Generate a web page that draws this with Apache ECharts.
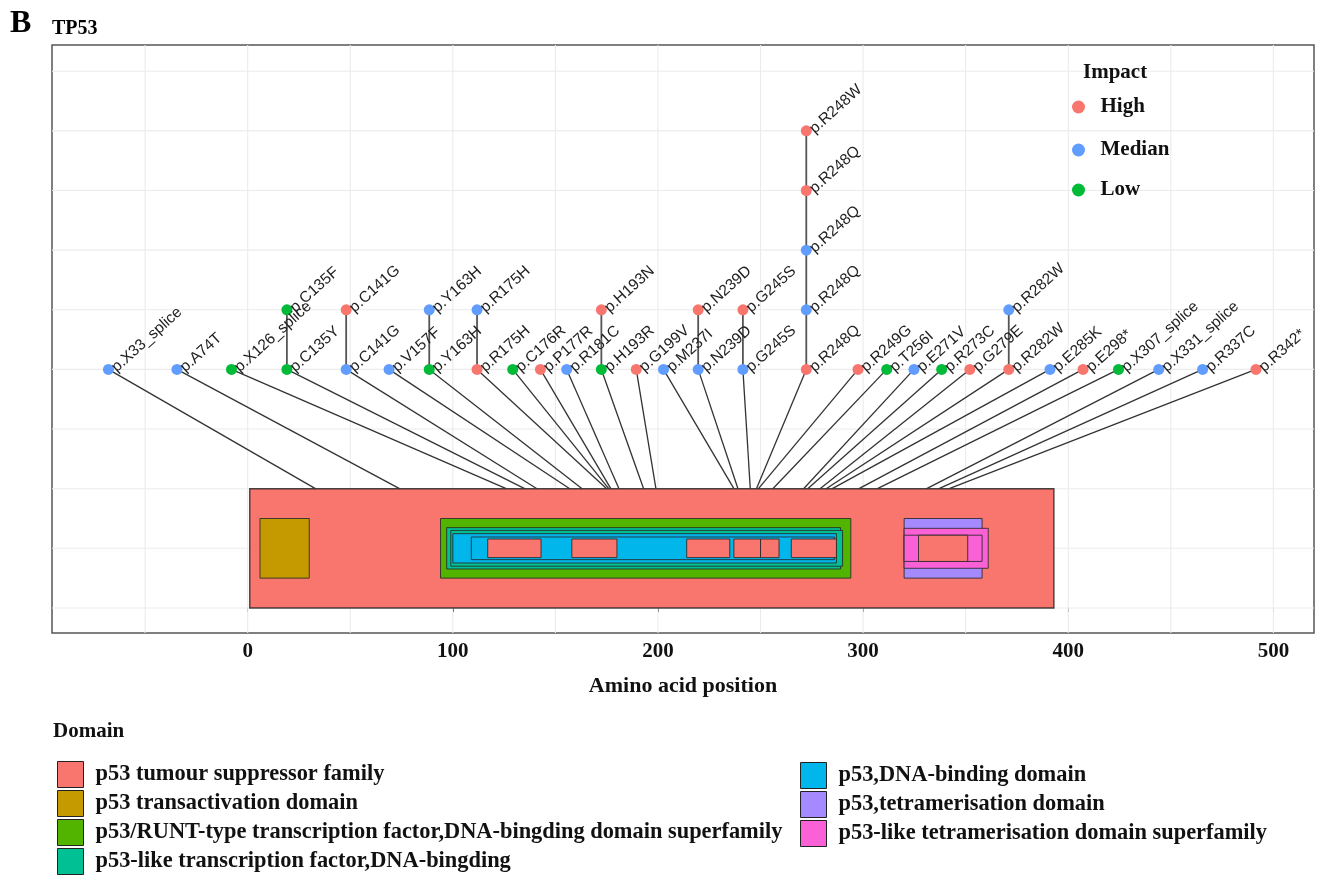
<!DOCTYPE html>
<html><head><meta charset="utf-8">
<script src="https://cdn.jsdelivr.net/npm/echarts@6/dist/echarts.min.js"></script>
<style>html,body{margin:0;padding:0;background:#fff}#chart{width:1324px;height:892px}</style>
</head><body><div id="chart"></div>
<script>
// ---------- axis / grid values ----------
const xTickValues = [0, 100, 200, 300, 400, 500];
const xGridValues = [-50, 0, 50, 100, 150, 200, 250, 300, 350, 400, 450, 500];
const yGridValues = [0, 1, 2, 3, 4, 5, 6, 7, 8, 9];

// ---------- impact categories ----------
const impactNames = ['High', 'Median', 'Low'];
const impactColors = ['#F8766D', '#619CFF', '#00BA38'];

// ---------- mutations ----------
const mutLabels = ['p.X33_splice','p.A74T','p.X126_splice','p.C135Y','p.C135F','p.C141G','p.C141G','p.V157F','p.Y163H','p.Y163H',
  'p.R175H','p.R175H','p.C176R','p.P177R','p.R181C','p.H193R','p.H193N','p.G199V','p.M237I','p.N239D','p.N239D',
  'p.G245S','p.G245S','p.R248Q','p.R248Q','p.R248Q','p.R248Q','p.R248W','p.R249G','p.T256I','p.E271V','p.R273C',
  'p.G279E','p.R282W','p.R282W','p.E285K','p.E298*','p.X307_splice','p.X331_splice','p.R337C','p.R342*'];
const mutPos = [33,74,126,135,135,141,141,157,163,163,175,175,176,177,181,193,193,199,237,239,239,245,245,
  248,248,248,248,248,249,256,271,273,279,282,282,285,298,307,331,337,342];
const mutImpact = ['Median','Median','Low','Low','Low','Median','High','Median','Low','Median',
  'High','Median','Low','High','Median','Low','High','High','Median','Median','High',
  'Median','High','High','Median','Median','High','High','High','Low','Median','Low',
  'High','High','Median','Median','High','Low','Median','Median','High'];
// repelled display position (amino-acid units) of each lollipop head
const mutDisplayPos = [-67.9,-34.5,-7.9,19.1,19.1,48.0,48.0,68.9,88.5,88.5,
  111.8,111.8,129.2,142.7,155.5,172.4,172.4,189.4,202.7,219.6,219.6,
  241.4,241.4,272.3,272.3,272.3,272.3,272.3,297.5,311.5,324.8,338.3,
  352.0,371.0,371.0,391.1,407.2,424.5,444.1,465.5,491.5];

// ---------- domains ----------
const domainNames = ['p53 tumour suppressor family','p53 transactivation domain',
  'p53/RUNT-type transcription factor,DNA-bingding domain superfamily','p53-like transcription factor,DNA-bingding',
  'p53,DNA-binding domain','p53,tetramerisation domain','p53-like tetramerisation domain superfamily'];
const domainColors = ['#F8766D','#C49A00','#53B400','#00C094','#00B6EB','#A58AFF','#FB61D7'];
const domStart = [1, 6, 94, 97, 99, 100, 109, 117, 158, 214, 237, 250, 265, 320, 320, 320, 327];
const domEnd   = [393, 30, 294, 289, 290, 287, 286, 143, 180, 235, 250, 259, 287, 358, 361, 358, 351];
const domType  = [0, 1, 2, 3, 3, 4, 4, 0, 0, 0, 0, 0, 0, 5, 6, 6, 0];
const domLayer = [0, 1, 1, 2, 3, 4, 5, 6, 6, 6, 6, 6, 6, 1, 7, 8, 8];

// ---------- layout constants (style) ----------
const X_MIN = -95.4, X_MAX = 519.8, Y_MIN = -0.42, Y_MAX = 9.44;
const HEAD_Y = 4, RECT_TOP = 2, RECT_MID = 1;
const layerHalf = [1.0, 0.5, 0.347, 0.3, 0.246, 0.19, 0.156, 0.335, 0.22];
const serif = 'Liberation Serif';

// stack index of each mutation within its position
const mutStack = [];
(function(){ const c = {}; mutPos.forEach((p,i)=>{ c[p] = (c[p]||0); mutStack.push(c[p]); c[p]++; }); })();

const gridData = xGridValues.map(v => [0, v]).concat(yGridValues.map(v => [1, v]));
const domData = domStart.map((s, i) => [s, domEnd[i], domType[i], domLayer[i]]);
const connData = mutPos.map((p, i) => [mutDisplayPos[i], p, mutStack[i]]);

const series = [];
series.push({
  type: 'custom', name: 'grid', silent: true, z: 1,
  data: gridData, encode: {x: -1, y: -1},
  renderItem: function (params, api) {
    const kind = api.value(0), v = api.value(1);
    let a, b;
    if (kind === 0) { a = api.coord([v, Y_MIN]); b = api.coord([v, Y_MAX]); }
    else { a = api.coord([X_MIN, v]); b = api.coord([X_MAX, v]); }
    return {type: 'line', shape: {x1: a[0], y1: a[1], x2: b[0], y2: b[1]},
      style: {stroke: '#EBEBEB', lineWidth: 1.1}};
  }
});
series.push({
  type: 'custom', name: 'connectors', silent: true, z: 3,
  data: connData, encode: {x: -1, y: -1},
  renderItem: function (params, api) {
    const d = api.value(0), p = api.value(1), s = api.value(2);
    let a, b;
    if (s === 0) { a = api.coord([d, HEAD_Y]); b = api.coord([p, RECT_TOP]); }
    else { a = api.coord([d, HEAD_Y + s - 1]); b = api.coord([d, HEAD_Y + s]); }
    return {type: 'line', shape: {x1: a[0], y1: a[1], x2: b[0], y2: b[1]},
      style: {stroke: s === 0 ? '#333333' : '#555555', lineWidth: s === 0 ? 1.3 : 1.8}};
  }
});
series.push({
  type: 'custom', name: 'domains', silent: true, z: 2,
  data: domData, encode: {x: -1, y: -1},
  renderItem: function (params, api) {
    const s = api.value(0), e = api.value(1), t = api.value(2), l = api.value(3);
    const h = layerHalf[l];
    const a = api.coord([s, RECT_MID + h]), b = api.coord([e, RECT_MID - h]);
    return {type: 'rect', z2: params.dataIndex,
      shape: {x: a[0], y: a[1], width: b[0] - a[0], height: b[1] - a[1]},
      style: {fill: domainColors[t], stroke: 'rgba(40,40,40,0.85)', lineWidth: l === 0 ? 1.4 : 1}};
  }
});
impactNames.forEach((nm, k) => {
  const data = [];
  mutLabels.forEach((lab, i) => {
    if (mutImpact[i] === nm) data.push({name: lab, value: [mutDisplayPos[i], HEAD_Y + mutStack[i]]});
  });
  series.push({
    type: 'scatter', name: nm, z: 5, symbol: 'circle', symbolSize: 11,
    itemStyle: {color: impactColors[k], opacity: 1},
    data: data,
    label: {show: true, formatter: '{b}', position: 'right', distance: 0, rotate: 42,
      fontFamily: 'Liberation Sans', fontSize: 15.5, color: '#222'}
  });
});
domainNames.forEach((nm, k) => {
  series.push({type: 'custom', name: nm, data: [], itemStyle: {color: domainColors[k]},
    renderItem: function () { return null; }});
});

const impactLegendTops = [96, 139, 179];
const legends = impactNames.map((nm, k) => ({
  data: [{name: nm, icon: 'circle'}], left: 1072, top: impactLegendTops[k], padding: 0,
  itemWidth: 34, itemHeight: 13, selectedMode: false,
  textStyle: {fontFamily: serif, fontWeight: 'bold', fontSize: 21, color: '#111', lineHeight: 22}
}));
const domLegendCommon = {orient: 'vertical', padding: 0, itemGap: 2, itemWidth: 26, itemHeight: 26,
  icon: 'rect', selectedMode: false, itemStyle: {borderColor: '#222', borderWidth: 1},
  textStyle: {fontFamily: serif, fontWeight: 'bold', fontSize: 22.4, color: '#111', padding: [0, 0, 0, 7]}};
legends.push(Object.assign({}, domLegendCommon, {data: domainNames.slice(0, 4), left: 57, top: 761}));
legends.push(Object.assign({}, domLegendCommon, {data: domainNames.slice(4), left: 800, top: 762}));

const chart = echarts.init(document.getElementById('chart'), null, {renderer: 'canvas'});
chart.setOption({
  animation: false,
  backgroundColor: '#ffffff',
  title: [
    {text: 'B', left: 10, top: 8, padding: 0, textStyle: {fontFamily: serif, fontWeight: 'bold', fontSize: 32, color: '#000'}},
    {text: 'TP53', left: 52, top: 19, padding: 0, textStyle: {fontFamily: serif, fontWeight: 'bold', fontSize: 20, color: '#000'}},
    {text: 'Impact', left: 1083, top: 62, padding: 0, textStyle: {fontFamily: serif, fontWeight: 'bold', fontSize: 21, color: '#111'}},
    {text: 'Domain', left: 53, top: 721, padding: 0, textStyle: {fontFamily: serif, fontWeight: 'bold', fontSize: 21, color: '#111'}}
  ],
  legend: legends,
  grid: {left: 52, right: 10, top: 45, bottom: 259, show: true, borderColor: '#555', borderWidth: 1.5, backgroundColor: '#fff'},
  xAxis: {
    type: 'value', min: X_MIN, max: X_MAX,
    axisLine: {show: false}, splitLine: {show: false},
    axisTick: {show: true, customValues: xTickValues, length: 4, lineStyle: {color: '#333'}},
    axisLabel: {customValues: xTickValues, margin: 8, fontFamily: serif, fontWeight: 'bold', fontSize: 21, color: '#111'},
    name: 'Amino acid position', nameLocation: 'middle', nameGap: 42,
    nameTextStyle: {fontFamily: serif, fontWeight: 'bold', fontSize: 22, color: '#111'}
  },
  yAxis: {type: 'value', min: Y_MIN, max: Y_MAX, axisLine: {show: false}, axisTick: {show: false},
    axisLabel: {show: false}, splitLine: {show: false}},
  series: series
});
</script></body></html>
